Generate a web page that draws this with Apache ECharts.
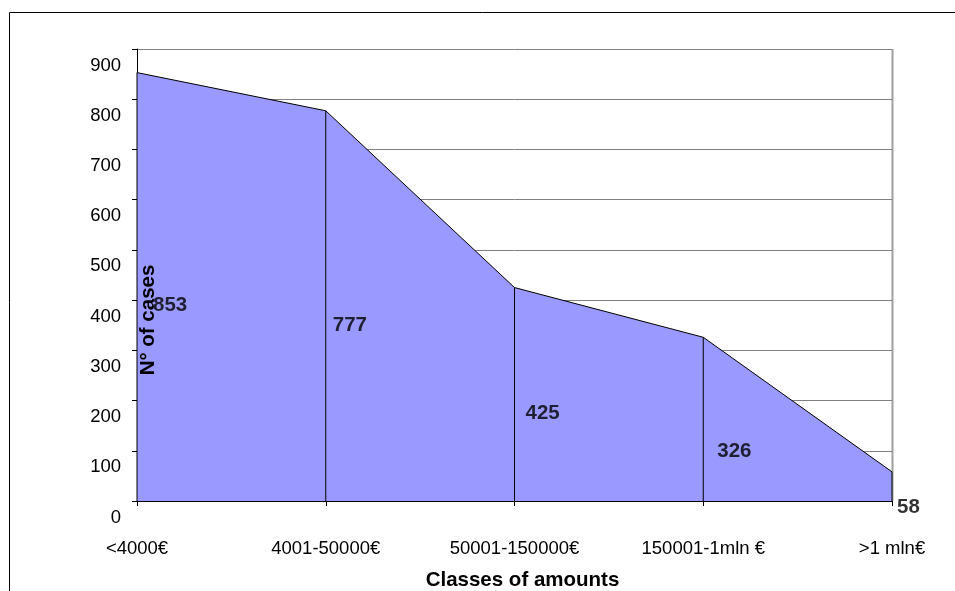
<!DOCTYPE html>
<html>
<head>
<meta charset="utf-8">
<title>Classes of amounts</title>
<script src="https://cdn.jsdelivr.net/npm/echarts@6/dist/echarts.min.js"></script>
<style>
  html, body { margin: 0; padding: 0; background: #fff; }
  #chart { width: 955px; height: 591px; }
</style>
</head>
<body>
<div id="chart"></div>
<script>
// Number of cases per class of amount
const categories = ['<4000€', '4001-50000€', '50001-150000€', '150001-1mln €', '>1 mln€'];
const cases = [853, 777, 425, 326, 58];
const yTicks = [0, 100, 200, 300, 400, 500, 600, 700, 800, 900];

// label nudges (pixels) for each value label
const labelDx = [16, 7, 11, 14, 5];
const labelDy = [19, 19, 19, 32, 21];

const FONT = 'Liberation Sans, Arial, sans-serif';

const chart = echarts.init(document.getElementById('chart'), null, { renderer: 'canvas' });

chart.setOption({
  animation: false,
  backgroundColor: '#ffffff',
  grid: {
    left: 137, right: 63, top: 49, bottom: 90,
    containLabel: false,
    outerBoundsMode: 'none'
  },
  xAxis: {
    type: 'category',
    data: categories,
    boundaryGap: false,
    axisLine: { lineStyle: { color: '#000', width: 1 } },
    axisTick: { show: true, length: 5, inside: false, lineStyle: { color: '#000' } },
    axisLabel: { color: '#000', fontFamily: FONT, fontSize: 18.5, margin: 38, interval: 0 },
    name: 'Classes of amounts',
    nameLocation: 'middle',
    nameGap: 69,
    nameTextStyle: { color: '#000', fontFamily: FONT, fontSize: 20.5, fontWeight: 'bold', padding: [0, 0, 0, 16] },
    splitLine: { show: false }
  },
  yAxis: {
    type: 'value',
    min: yTicks[0],
    max: yTicks[yTicks.length - 1],
    interval: 100,
    axisLine: { show: true, lineStyle: { color: '#000', width: 1 } },
    axisTick: { show: true, length: 5, lineStyle: { color: '#000' } },
    axisLabel: {
      color: '#000', fontFamily: FONT, fontSize: 18.5, margin: 16,
      verticalAlign: 'top', padding: [7, 0, 0, 0]
    },
    splitLine: { show: true, lineStyle: { color: '#808080', width: 1 } }
  },
  graphic: [
    {
      type: 'rect',
      shape: { x: 9.5, y: 12.5, width: 1000, height: 1000 },
      style: { fill: 'none', stroke: '#000', lineWidth: 1 },
      silent: true, z: -10
    },
    {
      type: 'line',
      shape: { x1: 892.5, y1: 49, x2: 892.5, y2: 501 },
      style: { stroke: '#a0a0a0', lineWidth: 2 },
      silent: true, z: -1
    },
    {
      type: 'text',
      x: 148, y: 320,
      rotation: Math.PI / 2,
      style: {
        text: 'N° of cases', fill: '#000', font: 'bold 20.5px ' + FONT,
        textAlign: 'center', textVerticalAlign: 'middle'
      },
      z: 100
    }
  ],
  series: [
    {
      name: 'cases',
      type: 'line',
      data: cases,
      symbol: 'none',
      lineStyle: { color: '#000', width: 1 },
      areaStyle: { color: '#9999ff', opacity: 1 },
      z: 2
    },
    {
      name: 'drop',
      type: 'bar',
      data: cases,
      barWidth: 1,
      itemStyle: { color: '#000' },
      z: 3
    },
    {
      name: 'values',
      type: 'scatter',
      symbolSize: 0,
      data: cases.map((v, i) => ({
        value: v / 2,
        label: { offset: [labelDx[i], labelDy[i]] }
      })),
      label: {
        show: true,
        position: 'right',
        distance: 0,
        color: '#000',
        fontFamily: FONT,
        fontSize: 20.5,
        fontWeight: 'bold',
        formatter: p => String(cases[p.dataIndex])
      },
      z: 5
    }
  ]
});
</script>
</body>
</html>
